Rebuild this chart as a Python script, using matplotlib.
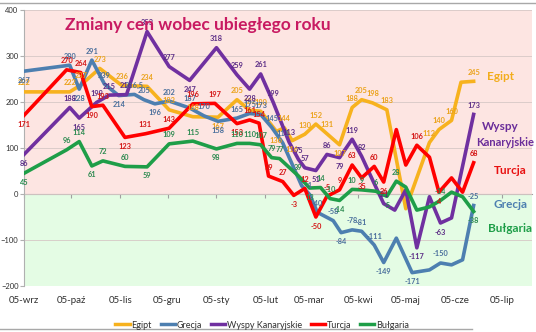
import pandas as pd
import matplotlib
matplotlib.use("Agg")
import matplotlib.pyplot as plt
from matplotlib.lines import Line2D

plt.rcParams['font.family'] = ['Lato', 'DejaVu Sans']

# dane (zmiana cen r/r)
egipt_daty = ['2005-09-01', '2005-09-30', '2005-10-07', '2005-10-19', '2005-11-02', '2005-11-18',
              '2005-12-02', '2005-12-17', '2006-01-02', '2006-01-14', '2006-01-22', '2006-01-29',
              '2006-02-08', '2006-02-13', '2006-02-18', '2006-02-26', '2006-03-05', '2006-03-12',
              '2006-03-20', '2006-03-28', '2006-04-03', '2006-04-10', '2006-04-19', '2006-05-01',
              '2006-05-16', '2006-05-22', '2006-05-30', '2006-06-05', '2006-06-13']
egipt = [222, 222, 237, 273, 236, 234, 183, 168, 167, 205, 182, 180, 136, 144, 116, 130, 152, 131,
         107, 188, 205, 198, 183, -32, 112, 140, 160, 243, 245]

grecja_daty = ['2005-09-01', '2005-09-30', '2005-10-06', '2005-10-14', '2005-10-22', '2005-10-31',
               '2005-11-10', '2005-11-16', '2005-11-23', '2005-12-02', '2005-12-15', '2005-12-24',
               '2006-01-02', '2006-01-14', '2006-01-22', '2006-01-29', '2006-02-05', '2006-02-12',
               '2006-02-24', '2006-03-01', '2006-03-06', '2006-03-16', '2006-03-21', '2006-03-28',
               '2006-04-03', '2006-04-11', '2006-04-17', '2006-04-25', '2006-05-05', '2006-05-16',
               '2006-05-23', '2006-05-30', '2006-06-06', '2006-06-13']
grecja = [267, 280, 228, 291, 239, 214, 216.5, 205, 196, 202, 187, 170, 158, 165, 175, 173, 145, 111,
          18, -1, -40, -58, -84, -78, -81, -111, -149, -96, -171, -165, -150, -154, -143, -25]

wyspy_daty = ['2005-09-01', '2005-09-30', '2005-10-06', '2005-10-17', '2005-10-25', '2005-11-05',
              '2005-11-18', '2005-12-02', '2005-12-15', '2006-01-01', '2006-01-14', '2006-01-22',
              '2006-01-29', '2006-02-06', '2006-02-16', '2006-02-22', '2006-02-26', '2006-03-05',
              '2006-03-12', '2006-03-20', '2006-03-28', '2006-04-03', '2006-04-10', '2006-04-17',
              '2006-04-24', '2006-05-01', '2006-05-08', '2006-05-16', '2006-05-23', '2006-05-30',
              '2006-06-13']
wyspy = [86, 188, 165, 199, 215, 216, 353, 277, 247, 318, 259, 228, 261, 199, 113, 75, 57, 51, 86, 79,
         119, 82, 30, -21, -35, 9, -117, -6, -63, -52, 173]

turcja_daty = ['2005-09-01', '2005-09-28', '2005-10-07', '2005-10-14', '2005-10-21', '2005-11-04',
               '2005-11-17', '2005-12-02', '2005-12-17', '2005-12-31', '2006-01-14', '2006-01-22',
               '2006-01-28', '2006-02-03', '2006-02-12', '2006-02-19', '2006-02-26', '2006-03-05',
               '2006-03-12', '2006-03-20', '2006-03-28', '2006-04-03', '2006-04-11', '2006-04-17',
               '2006-04-25', '2006-05-01', '2006-05-08', '2006-05-16', '2006-05-22', '2006-05-30',
               '2006-06-06', '2006-06-13']
turcja = [171, 270, 264, 190, 193, 123, 131, 143, 196, 197, 153, 161, 154, 39, 27, -3, 12, -50, -5, 9,
          63, 35, 60, 26, 140, 63, 106, 80, 4, 35, 4, 68]

bulgaria_daty = ['2005-09-01', '2005-09-28', '2005-10-06', '2005-10-14', '2005-10-21', '2005-11-04',
                 '2005-11-18', '2005-12-02', '2005-12-17', '2006-01-01', '2006-01-14', '2006-01-22',
                 '2006-01-29', '2006-02-05', '2006-02-10', '2006-02-22', '2006-03-01', '2006-03-08',
                 '2006-03-14', '2006-03-20', '2006-03-28', '2006-04-03', '2006-04-12', '2006-04-19',
                 '2006-04-25', '2006-05-01', '2006-05-08', '2006-05-16', '2006-05-23', '2006-05-30',
                 '2006-06-06', '2006-06-13']
bulgaria = [45, 96, 114, 61, 72, 60, 59, 109, 115, 98, 110, 110, 107, 79, 77, 39, 13, 14, -10, -14, 10,
            9, 6, -5, 28, 15, -35, -28, -14, 4, -6, -38]

# punkty bez widocznej etykiety na oryginale
bez_etykiety = {
    'Egipt': ['2006-05-01', '2006-06-05'],
    'Grecja': ['2006-04-25', '2006-05-16', '2006-05-30', '2006-06-06', '2006-02-24'],
    'Wyspy Kanaryjskie': ['2006-04-10', '2006-04-24', '2006-05-01', '2006-05-16', '2006-05-30'],
    'Turcja': ['2006-04-25', '2006-05-01', '2006-05-16', '2006-05-30', '2006-06-06'],
    'Bułgaria': ['2006-05-01', '2006-05-08', '2006-05-16', '2006-05-30', '2006-06-06'],
}

miesiace = ['05-wrz', '05-paź', '05-lis', '05-gru', '05-sty', '05-lut', '05-mar', '05-kwi',
            '05-maj', '05-cze', '05-lip']

serie = [
    ('Egipt', egipt_daty, egipt, '#f7b21e', '#eba21a'),
    ('Grecja', grecja_daty, grecja, '#4d7fb0', '#4a6f9c'),
    ('Wyspy Kanaryjskie', wyspy_daty, wyspy, '#7030a0', '#5c2d86'),
    ('Turcja', turcja_daty, turcja, '#ff0000', '#d41414'),
    ('Bułgaria', bulgaria_daty, bulgaria, '#1e9e48', '#2c8a50'),
]

fig = plt.figure(figsize=(5.36, 3.32), dpi=100)
ax = fig.add_axes([24 / 536, 1 - 286 / 332, (532 - 24) / 536, (286 - 10) / 332])

ax.axhspan(0, 400, color='#fde5e2', zorder=0, lw=0)
ax.axhspan(-200, 0, color='#e4fce4', zorder=0, lw=0)
ax.set_ylim(-200, 400)
ax.set_xlim(pd.Timestamp('2005-09-01'), pd.Timestamp('2006-07-20'))
ax.set_yticks(range(-200, 401, 100))
ax.yaxis.grid(True, color='#d6c8c6', lw=0.6)
ax.set_axisbelow(True)

for s in ['top', 'right', 'bottom']:
    ax.spines[s].set_visible(False)
ax.spines['left'].set_color('#b0b0b0')

ticks = pd.date_range('2005-09-01', '2006-07-01', freq='MS')
ax.set_xticks(ticks)
ax.set_xticklabels(miesiace)
ax.tick_params(axis='x', length=0, pad=7, labelsize=7, labelcolor='#303030')
ax.tick_params(axis='y', length=3, color='#b0b0b0', labelsize=5.5, labelcolor='#303030', pad=1)

# oś pozioma w zerze
zero = ax.secondary_xaxis(1 / 3)
zero.set_xticks(ticks)
zero.tick_params(length=3, color='#a0a0a0', labelbottom=False)
zero.spines['bottom'].set_color('#a0a0a0')

for nazwa, daty, wart, kolor, kolor_et in serie:
    d = pd.to_datetime(daty)
    ax.plot(d, wart, color=kolor, lw=2.6, solid_joinstyle='round', label=nazwa, zorder=3)

for nazwa, daty, wart, kolor, kolor_et in serie:
    d = pd.to_datetime(daty)
    for i, (x, v) in enumerate(zip(d, wart)):
        if daty[i] in bez_etykiety[nazwa]:
            continue
        lewy = wart[i - 1] if i > 0 else v + 1
        prawy = wart[i + 1] if i < len(wart) - 1 else v + 1
        dol = v < lewy and v < prawy
        tekst = f'{v:g}'.replace('.', ',')
        ax.annotate(tekst, (x, v), xytext=(0, -4 if dol else 4), textcoords='offset points',
                    ha='center', va='top' if dol else 'bottom', fontsize=5.3,
                    color=kolor_et, fontweight='bold', zorder=4)

ax.text(41 / 508, 0.975, 'Zmiany cen wobec ubiegłego roku', transform=ax.transAxes,
        fontsize=12.5, fontweight='bold', color='#c81a62', va='top', ha='left', zorder=5)

fig.text(500 / 536, 1 - 77 / 332, 'Egipt', color='#f2ad1c', fontsize=8.5, fontweight='bold', ha='center', va='center')
fig.text(500 / 536, 1 - 127 / 332, 'Wyspy', color='#6a2d9a', fontsize=8.5, fontweight='bold', ha='center', va='center')
fig.text(534 / 536, 1 - 142 / 332, 'Kanaryjskie', color='#6a2d9a', fontsize=8, fontweight='bold', ha='right', va='center')
fig.text(510 / 536, 1 - 170 / 332, 'Turcja', color='#e81010', fontsize=8.5, fontweight='bold', ha='center', va='center')
fig.text(510 / 536, 1 - 205 / 332, 'Grecja', color='#4d7fb0', fontsize=8.5, fontweight='bold', ha='center', va='center')
fig.text(510 / 536, 1 - 228 / 332, 'Bułgaria', color='#1e9e48', fontsize=8.5, fontweight='bold', ha='center', va='center')

uchwyty = [Line2D([], [], color=s[3], lw=2.5) for s in serie]
fig.legend(uchwyty, [s[0] for s in serie], loc='center', bbox_to_anchor=(262 / 536, 1 - 325 / 332),
           ncol=5, fontsize=6.5, frameon=False, handlelength=1.6, handletextpad=0.15,
           columnspacing=1.0, labelcolor='#303030')

fig.add_artist(Line2D([0, 1], [1 - 3 / 332] * 2, color='#a8a8a8', lw=1))
fig.add_artist(Line2D([0, 0.88], [1 - 329 / 332] * 2, color='#a8a8a8', lw=1))

fig.savefig('out.png', dpi=100)
